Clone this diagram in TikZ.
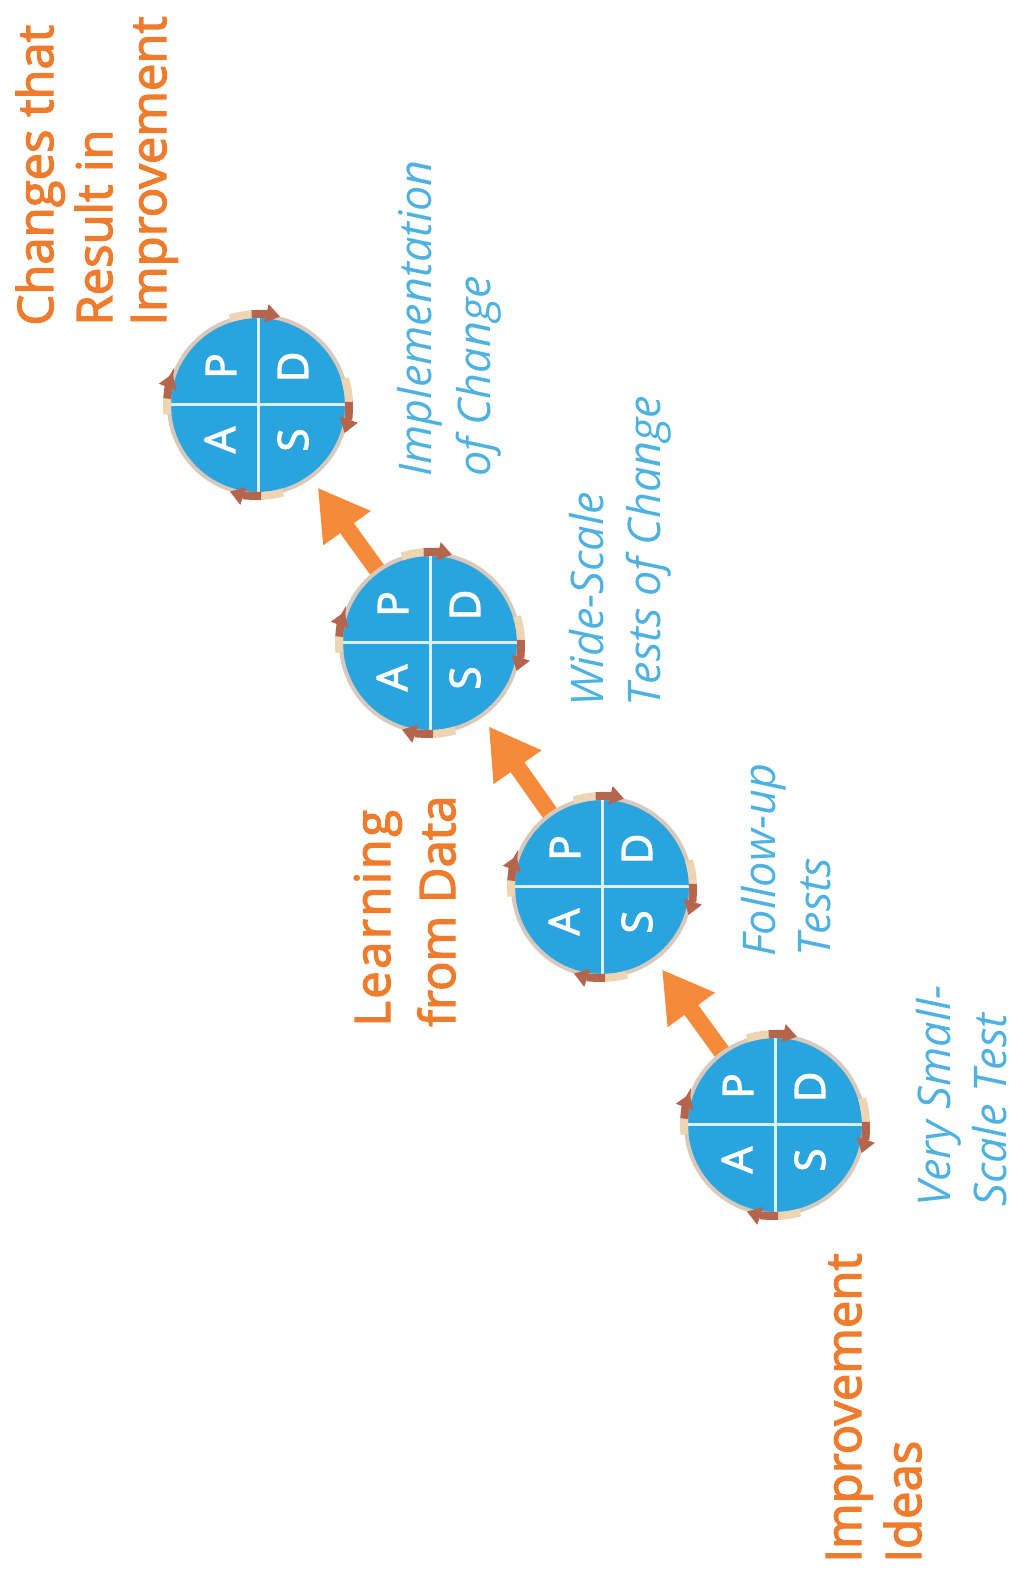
\documentclass[tikz,border=0pt]{standalone}
\usepackage{fontspec}
\setmainfont{Open Sans}
\newfontfamily\headfont[FakeBold=2.6]{Open Sans}
\usetikzlibrary{arrows.meta,backgrounds}
\definecolor{pdsablue}{HTML}{29A4DE}
\definecolor{ringtan}{HTML}{D8C9BC}
\definecolor{dividercol}{HTML}{D9F1FB}
\definecolor{headorange}{HTML}{EF7B2C}
\definecolor{noteblue}{HTML}{4DB2E2}
\definecolor{flow}{HTML}{F58A3A}
\definecolor{cyctail}{HTML}{EDD5B3}
\definecolor{cychead}{HTML}{B5654B}
\begin{document}
\begin{tikzpicture}[x=0.5pt,y=0.5pt,
  pdsa/.style={circle, minimum size=89pt, inner sep=0pt, fill=pdsablue, draw=ringtan, line width=2pt},
  divider/.style={draw=dividercol, line width=1.5pt, shorten <=2pt, shorten >=2pt},
  letter/.style={text=white, font=\headfont\fontsize{21}{24}\selectfont, rotate=90, inner sep=0pt},
  flowarrow/.style={draw=flow, line width=8.5pt, -{Triangle[width=27.5pt,length=25pt]}, shorten >=5.5pt},
  headline/.style={text=headorange, font=\headfont\fontsize{24.5}{29}\selectfont, rotate=90, anchor=base west, inner sep=0pt},
  note/.style={text=noteblue, font=\fontsize{22.5}{27}\selectfont\itshape, rotate=90, anchor=base west, inner sep=0pt},
  cycletail/.style={draw=cyctail, line width=4pt},
  cyclehead/.style={draw=cychead, line width=4pt, -{Triangle[width=9pt,length=7pt]}}
]
\useasboundingbox (0,0) rectangle (1018,1573);

% the four PDSA cycles, from the first small test up to implementation
\node[pdsa] (c1) at (775,448) {};
\node[pdsa] (c2) at (602,686) {};
\node[pdsa] (c3) at (430,930) {};
\node[pdsa] (c4) at (258,1168) {};

% ramp arrows between successive cycles
\begin{scope}[on background layer]
  \draw[flowarrow] (c1.center) -- (c2);
  \draw[flowarrow] (c2.center) -- (c3);
  \draw[flowarrow] (c3.center) -- (c4);
\end{scope}

\foreach \c in {c1,c2,c3,c4}{
  % quadrant dividers
  \draw[divider] (\c.north) -- (\c.south);
  \draw[divider] (\c.west) -- (\c.east);
  % quadrant letters
  \node[letter] (\c-P) at ([shift={(-37,39)}]\c.center) {P};
  \node[letter] (\c-D) at ([shift={(35,38)}]\c.center) {D};
  \node[letter] (\c-A) at ([shift={(-38,-35)}]\c.center) {A};
  \node[letter] (\c-S) at ([shift={(35,-35)}]\c.center) {S};
  % clockwise cycle arrows on the rim
  \foreach \s/\m/\e in {108/94/76, 17/2/-18, -74/-88/-108, 186/176/160}{
    \draw[cycletail] ([shift={(\s:91)}]\c.center) arc[start angle=\s, end angle=\m, radius=91];
    \draw[cyclehead] ([shift={(\m:91)}]\c.center) arc[start angle=\m, end angle=\e, radius=91];
  }
}

% orange headings
\node[headline] (chg1) at (53,1247) {Changes that};
\node[headline] (chg2) at (112,1247) {Result in};
\node[headline] (chg3) at (166,1247) {Improvement};
\node[headline, font=\headfont\fontsize{24.5}{29}\selectfont\addfontfeatures{LetterSpace=5}] (learn1) at (390,546) {Learning};
\node[headline] (learn2) at (455,546) {from Data};
\node[headline] (idea1) at (861,10) {Improvement};
\node[headline] (idea2) at (921,10) {Ideas};

% blue stage notes
\node[note] (impl1) at (431,1096) {Implementation};
\node[note] (impl2) at (490,1096) {of Change};
\node[note] (wide1) at (603,866) {Wide-Scale};
\node[note] (wide2) at (660,866) {Tests of Change};
\node[note] (foll1) at (775,616) {Follow-up};
\node[note] (foll2) at (830,616) {Tests};
\node[note] (very1) at (950,366) {Very Small-};
\node[note] (very2) at (1006,366) {Scale Test};
\end{tikzpicture}
\end{document}
